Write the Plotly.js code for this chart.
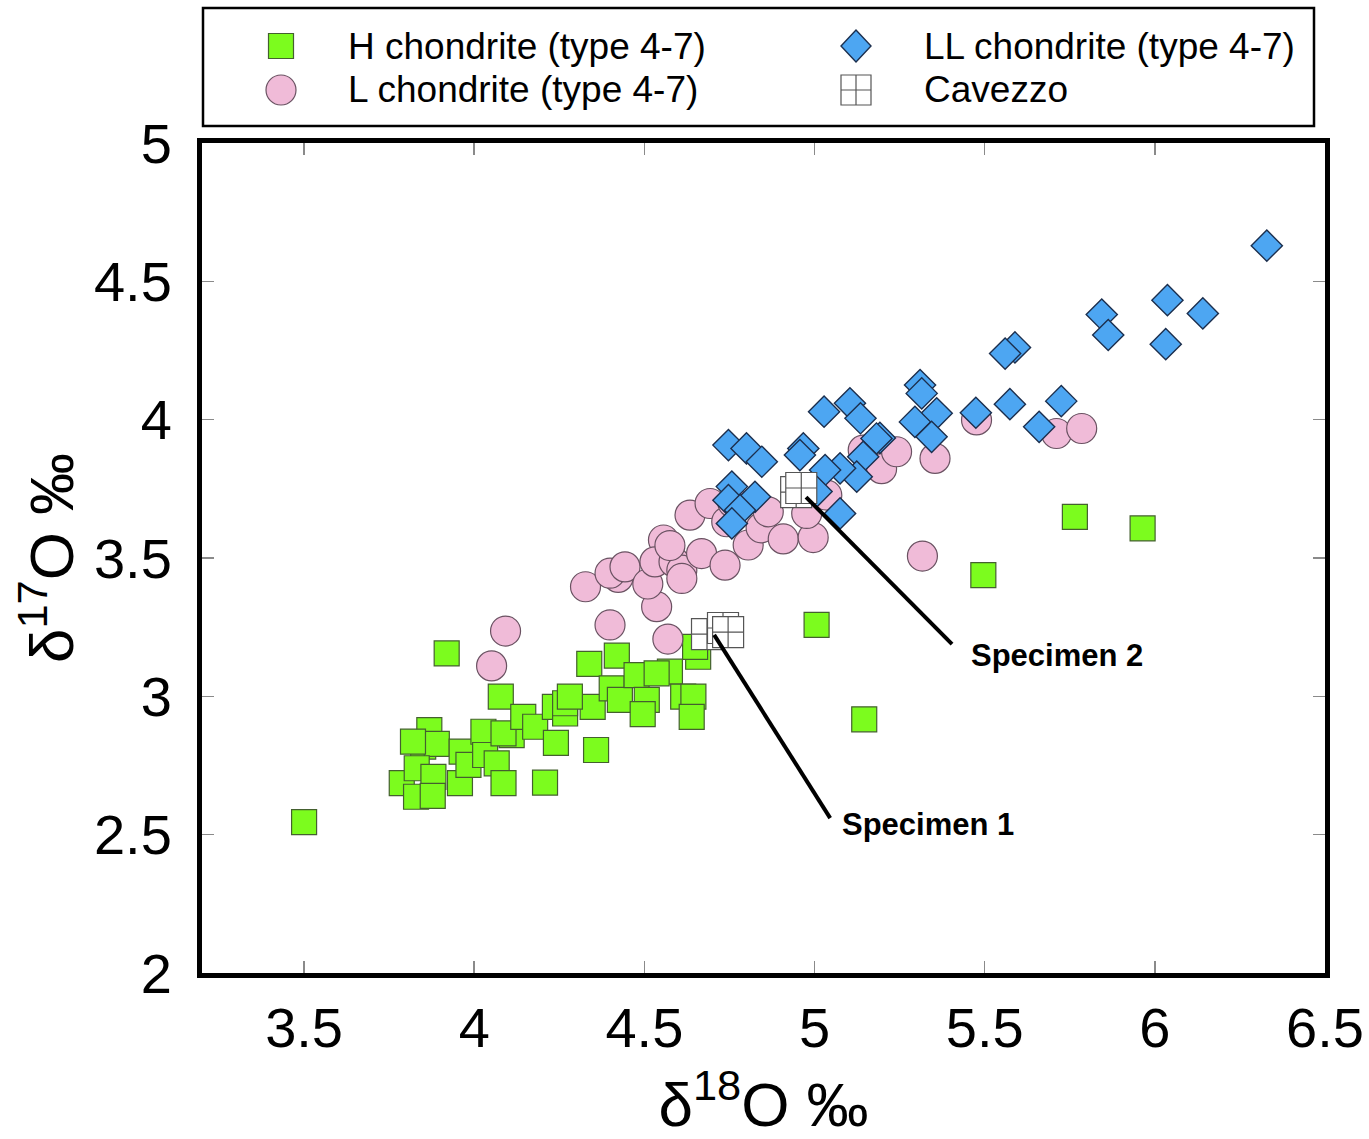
<!DOCTYPE html>
<html>
<head>
<meta charset="utf-8">
<script src="https://cdn.plot.ly/plotly-3.0.1.min.js"></script>
<style>html,body{margin:0;padding:0;background:#fff;}#chart{width:1369px;height:1139px;}</style>
</head>
<body>
<div id="chart"></div>
<script>
// H chondrite (type 4-7)
const hX = [3.50,3.919,4.078,3.868,3.850,3.890,3.787,3.831,3.880,3.829,3.878,3.958,3.963,3.983,4.027,4.032,4.066,4.086,4.110,4.086,4.144,4.179,4.237,4.267,4.267,4.240,4.208,4.348,4.338,4.358,4.419,4.404,4.428,4.477,4.507,4.495,4.575,4.536,4.614,4.644,4.639,4.658,4.649,3.820,4.281,5.006,5.146,5.496,5.765,5.964];
const hY = [2.545,3.155,2.999,2.878,2.818,2.828,2.686,2.740,2.709,2.637,2.640,2.686,2.800,2.752,2.872,2.788,2.758,2.686,2.860,2.866,2.926,2.890,2.962,2.938,2.975,2.832,2.688,2.962,3.117,2.806,3.147,3.029,2.987,3.077,2.987,2.936,3.089,3.083,2.999,2.999,2.926,3.143,3.179,2.836,2.999,3.258,2.917,3.438,3.649,3.607];
// L chondrite (type 4-7)
const lX = [4.092,4.051,4.327,4.423,4.399,4.443,4.399,4.569,4.536,4.510,4.556,4.531,4.587,4.610,4.610,4.668,4.737,4.634,4.693,4.742,4.805,4.843,4.908,4.996,4.977,5.036,4.864,4.760,4.575,5.354,5.476,5.197,5.241,5.143,5.317,5.711,5.785];
const lY = [3.236,3.110,3.396,3.430,3.445,3.468,3.258,3.207,3.324,3.406,3.565,3.486,3.486,3.456,3.426,3.516,3.474,3.655,3.697,3.631,3.547,3.609,3.569,3.574,3.661,3.727,3.667,3.700,3.545,3.860,3.999,3.823,3.884,3.890,3.507,3.950,3.968];
// LL chondrite (type 4-7)
const llX = [6.329,6.037,6.141,6.032,5.844,5.863,5.589,5.560,5.725,5.660,5.574,5.474,5.310,5.315,5.359,5.295,5.344,5.192,5.028,5.104,5.135,4.747,4.800,4.845,4.967,4.957,5.182,5.143,5.124,5.075,5.031,5.075,5.006,4.757,4.747,4.825,4.781,4.757];
const llY = [4.629,4.432,4.384,4.273,4.380,4.306,4.261,4.239,4.067,3.974,4.056,4.025,4.125,4.095,4.023,3.992,3.938,3.934,4.029,4.059,4.005,3.908,3.896,3.848,3.896,3.872,3.932,3.866,3.794,3.824,3.818,3.661,3.740,3.758,3.709,3.721,3.673,3.625];
// Cavezzo
const cX = [4.684,4.731,4.746,4.946,4.961];
const cY = [3.225,3.247,3.232,3.738,3.753];
// Labels
const specimenLabels = ["Specimen 1","Specimen 2"];
const legendLabels = ["H chondrite (type 4-7)","LL chondrite (type 4-7)","L chondrite (type 4-7)","Cavezzo"];
const xTicks = [3.5,4,4.5,5,5.5,6,6.5];
const yTicks = [2,2.5,3,3.5,4,4.5,5];

const FONT = "Liberation Sans, Arial, sans-serif";
const colH = '#7CFC1E', colL = '#F0BBD8', colLL = '#4DA6F2';

const traces = [
  {x:hX, y:hY, type:'scatter', mode:'markers', name:legendLabels[0], showlegend:false,
   marker:{symbol:'square', size:25, color:colH, line:{color:'#44602f', width:1.2}}},
  {x:lX, y:lY, type:'scatter', mode:'markers', name:legendLabels[2], showlegend:false,
   marker:{symbol:'circle', size:30, color:colL, line:{color:'#6a5262', width:1.2}}},
  {x:llX, y:llY, type:'scatter', mode:'markers', name:legendLabels[1], showlegend:false,
   marker:{symbol:'diamond', size:24, color:colLL, line:{color:'#1c2f4e', width:1.4}}},
  {x:cX, y:cY, type:'scatter', mode:'markers', name:legendLabels[3], showlegend:false,
   marker:{symbol:'square-cross', size:31, color:'#ffffff', line:{color:'#555555', width:1.2}}}
];

// paper coordinate helpers for the legend box (plot area px 202..1325, 143..973)
const L0 = 202, PW = 1123, T0 = 143, PH = 830;
const px = v => (v - L0) / PW;
const py = v => (T0 + PH - v) / PH;

const shapes = [
  {type:'rect', xref:'paper', yref:'paper', x0:px(203), x1:px(1314), y0:py(126), y1:py(8),
   line:{color:'#000', width:2.5}, fillcolor:'#fff'},
  {type:'rect', xref:'paper', yref:'paper', xsizemode:'pixel', ysizemode:'pixel',
   xanchor:px(281), yanchor:py(46), x0:-12.5, x1:12.5, y0:-12.5, y1:12.5,
   fillcolor:colH, line:{color:'#44602f', width:1.2}},
  {type:'circle', xref:'paper', yref:'paper', xsizemode:'pixel', ysizemode:'pixel',
   xanchor:px(281), yanchor:py(90), x0:-15, x1:15, y0:-15, y1:15,
   fillcolor:colL, line:{color:'#6a5262', width:1.2}},
  {type:'path', xref:'paper', yref:'paper', xsizemode:'pixel', ysizemode:'pixel',
   xanchor:px(856), yanchor:py(46), path:'M 0 -16 L 15 0 L 0 16 L -15 0 Z',
   fillcolor:colLL, line:{color:'#1c2f4e', width:1.4}},
  {type:'rect', xref:'paper', yref:'paper', xsizemode:'pixel', ysizemode:'pixel',
   xanchor:px(856), yanchor:py(90), x0:-15, x1:15, y0:-15, y1:15,
   fillcolor:'#fff', line:{color:'#555', width:1.2}},
  {type:'path', xref:'paper', yref:'paper', xsizemode:'pixel', ysizemode:'pixel',
   xanchor:px(856), yanchor:py(90), path:'M 0 -15 L 0 15 M -15 0 L 15 0',
   line:{color:'#555', width:1.2}},
  {type:'line', xref:'x', yref:'y', x0:4.705, y0:3.222, x1:5.046, y1:2.560, line:{color:'#000', width:4}},
  {type:'line', xref:'x', yref:'y', x0:4.975, y0:3.720, x1:5.404, y1:3.189, line:{color:'#000', width:4}}
];

const LF = 37;
const annotations = [
  {xref:'paper', yref:'paper', x:px(346), y:py(46), xanchor:'left', yanchor:'middle', showarrow:false,
   text:legendLabels[0], font:{family:FONT, size:LF, color:'#000'}},
  {xref:'paper', yref:'paper', x:px(922), y:py(46), xanchor:'left', yanchor:'middle', showarrow:false,
   text:legendLabels[1], font:{family:FONT, size:LF, color:'#000'}},
  {xref:'paper', yref:'paper', x:px(346), y:py(90), xanchor:'left', yanchor:'middle', showarrow:false,
   text:legendLabels[2], font:{family:FONT, size:LF, color:'#000'}},
  {xref:'paper', yref:'paper', x:px(922), y:py(90), xanchor:'left', yanchor:'middle', showarrow:false,
   text:legendLabels[3], font:{family:FONT, size:LF, color:'#000'}},
  {xref:'x', yref:'y', x:5.334, y:2.538, xanchor:'center', yanchor:'middle', showarrow:false,
   text:'<b>'+specimenLabels[0]+'</b>', font:{family:FONT, size:31, color:'#000'}},
  {xref:'x', yref:'y', x:5.713, y:3.146, xanchor:'center', yanchor:'middle', showarrow:false,
   text:'<b>'+specimenLabels[1]+'</b>', font:{family:FONT, size:31, color:'#000'}}
];

const layout = {
  width:1369, height:1139,
  margin:{l:202, r:44, t:143, b:166, pad:0},
  paper_bgcolor:'#fff', plot_bgcolor:'#fff',
  font:{family:FONT, color:'#000'},
  showlegend:false,
  xaxis:{range:[3.2,6.5], tickvals:xTicks, ticktext:xTicks.map(String),
    ticks:'inside', ticklen:12, tickwidth:1.5, tickcolor:'#8a8a8a',
    showline:true, linecolor:'#000', linewidth:5, mirror:'allticks',
    showgrid:false, zeroline:false, ticklabelstandoff:2,
    tickfont:{family:FONT, size:56, color:'#000'},
    title:{text:'δ<sup>18</sup>O ‰', font:{family:FONT, size:62, color:'#000'}, standoff:30}},
  yaxis:{range:[2,5], tickvals:yTicks, ticktext:yTicks.map(String),
    ticks:'inside', ticklen:12, tickwidth:1.5, tickcolor:'#8a8a8a',
    showline:true, linecolor:'#000', linewidth:5, mirror:'allticks',
    showgrid:false, zeroline:false, ticklabelstandoff:14,
    tickfont:{family:FONT, size:56, color:'#000'},
    title:{text:'δ<sup>17</sup>O ‰', font:{family:FONT, size:62, color:'#000'}, standoff:2}},
  shapes:shapes,
  annotations:annotations
};

Plotly.newPlot('chart', traces, layout, {displayModeBar:false, staticPlot:true});
</script>
</body>
</html>
